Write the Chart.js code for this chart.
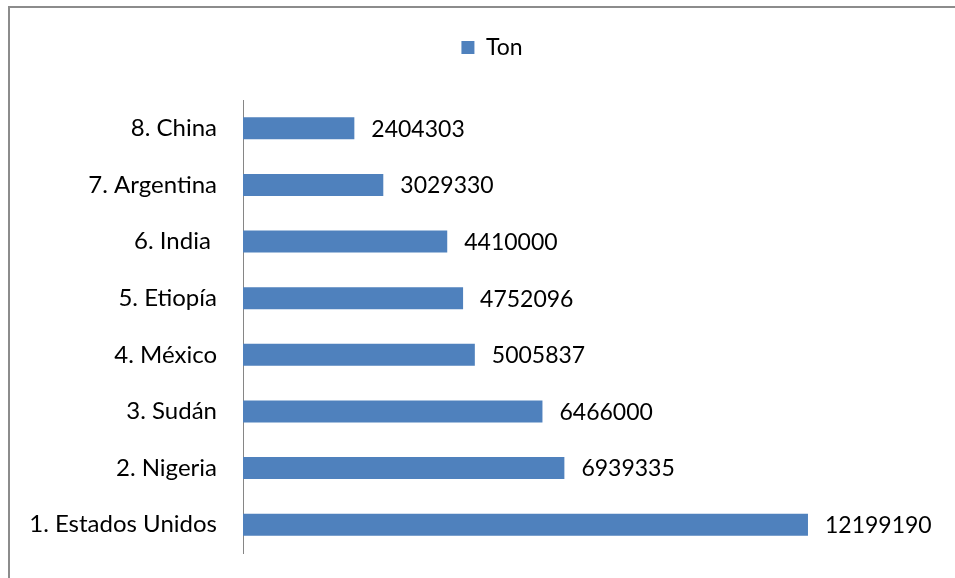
<!DOCTYPE html>
<html>
<head>
<meta charset="utf-8">
<script src="https://cdn.jsdelivr.net/npm/chart.js@4/dist/chart.umd.min.js"></script>
<style>
html, body { margin: 0; padding: 0; background: #fff; overflow: hidden; }
#wrap { position: absolute; left: 0; top: 0; width: 984px; height: 590px; }
</style>
</head>
<body>
<div id="wrap"><canvas id="myChart"></canvas></div>
<script>
// datos (de arriba hacia abajo)
var paises = ["8. China", "7. Argentina", "6. India ", "5. Etiopía", "4. México", "3. Sudán", "2. Nigeria", "1. Estados Unidos"];
var toneladas = [2404303, 3029330, 4410000, 4752096, 5005837, 6466000, 6939335, 12199190];
var serie = "Ton";

var fuente = "Lato, 'Open Sans', sans-serif";

// marco gris del grafico
var marco = {
	id: 'marco',
	beforeDraw: function(chart) {
		var ctx = chart.ctx;
		ctx.save();
		ctx.fillStyle = '#fff';
		ctx.fillRect(0, 0, chart.width, chart.height);
		ctx.strokeStyle = '#8c8c8c';
		ctx.lineWidth = 2;
		ctx.strokeRect(9, 7, chart.width, chart.height);
		ctx.restore();
	}
};

// espacio extra debajo de la leyenda
var espacio = {
	id: 'espacio',
	beforeInit: function(chart) {
		var fit = chart.legend.fit;
		chart.legend.fit = function() {
			fit.call(this);
			this.height += 31;
		};
	}
};

// valores al final de cada barra
var etiquetas = {
	id: 'etiquetas',
	afterDatasetsDraw: function(chart) {
		var ctx = chart.ctx;
		var meta = chart.getDatasetMeta(0);
		ctx.save();
		ctx.font = "23px " + fuente;
		ctx.fillStyle = '#000';
		ctx.textAlign = 'left';
		ctx.textBaseline = 'middle';
		for (var i = 0; i < meta.data.length; i++) {
			var bar = meta.data[i];
			ctx.fillText(String(toneladas[i]), bar.x + 17, bar.y + 1);
		}
		ctx.restore();
	}
};

var ctx = document.getElementById("myChart").getContext("2d");
var myBarChart = new Chart(ctx, {
	type: 'bar',
	data: {
		labels: paises,
		datasets: [{
			label: serie,
			data: toneladas,
			backgroundColor: '#4f81bd',
			barPercentage: 0.39,
			categoryPercentage: 1
		}]
	},
	options: {
		indexAxis: 'y',
		responsive: true,
		maintainAspectRatio: false,
		animation: false,
		layout: { padding: { top: 26, right: 0, bottom: 37, left: 0 } },
		plugins: {
			legend: {
				display: true,
				position: 'top',
				labels: {
					boxWidth: 13,
					boxHeight: 13,
					color: '#000',
					font: { family: fuente, size: 23 },
					padding: 10
				}
			},
			tooltip: { enabled: false }
		},
		scales: {
			x: {
				display: false,
				min: 0,
				max: 16000000
			},
			y: {
				grid: { display: false },
				border: { display: true, color: '#868686', width: 1 },
				ticks: {
					color: '#000',
					font: { family: fuente, size: 24 },
					padding: 18
				},
				afterFit: function(scale) { scale.width = 243; }
			}
		}
	},
	plugins: [marco, espacio, etiquetas]
});
</script>
</body>
</html>
